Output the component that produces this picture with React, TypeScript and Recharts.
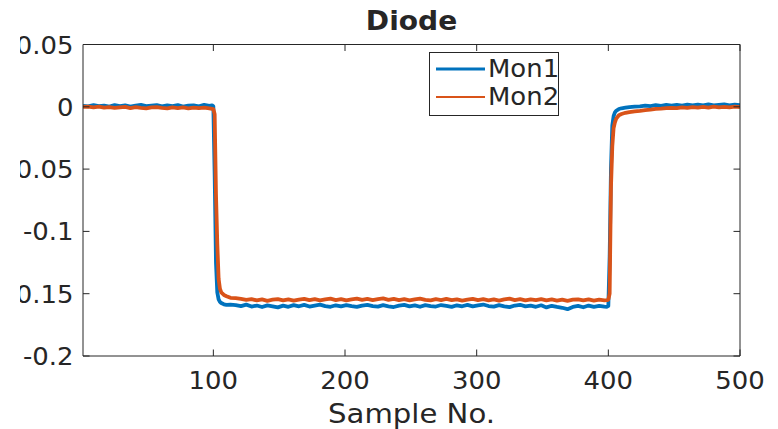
import React from 'react';
import { LineChart, Line, XAxis, YAxis, Legend } from 'recharts';

// Sample numbers (x values)
const sampleNo = [
  1, 5, 9, 13, 17, 21, 25, 29, 33, 37, 41, 45, 49, 53, 57, 61, 65, 69, 73, 77, 81, 85, 89, 93, 97,
  99, 100, 101, 102, 103, 104, 105, 106, 108, 110, 113,
  117, 121, 125, 129, 133, 137, 141, 145, 149, 153, 157, 161, 165, 169, 173, 177, 181, 185, 189, 193,
  197, 201, 205, 209, 213, 217, 221, 225, 229, 233, 237, 241, 245, 249, 253, 257, 261, 265, 269, 273,
  277, 281, 285, 289, 293, 297, 301, 305, 309, 313, 317, 321, 325, 329, 333, 337, 341, 345, 349, 353,
  357, 361, 365, 369, 373, 377, 381, 385, 389, 393, 397,
  399, 400, 401, 402, 403, 404, 405, 406, 408, 410, 413, 416, 420,
  424, 428, 432, 436, 440, 444, 448, 452, 456, 460, 464, 468, 472, 476, 480, 484, 488, 492, 496, 500,
];

const mon1 = [
  0.0008, 0.0003, 0.0013, 0.0005, 0.001, 0.0002, 0.0014, 0.0006, 0.0011, 0.0001, 0.001, 0.0015, 0.0005, 0.0009, 0.0013, 0.0003, 0.0011, 0.0006, 0.0014, 0.0002, 0.001, 0.0012, 0.0004, 0.0016, 0.0008,
  0.0012, 0.0004, -0.055, -0.125, -0.149, -0.1545, -0.1565, -0.1575, -0.1585, -0.159, -0.1588,
  -0.1591, -0.16, -0.1588, -0.1603, -0.1595, -0.1607, -0.1594, -0.1601, -0.161, -0.1596, -0.1605, -0.1592, -0.1601, -0.159, -0.1603, -0.1595, -0.1588, -0.16, -0.1605, -0.1593,
  -0.1602, -0.1591, -0.16, -0.1606, -0.1595, -0.1589, -0.16, -0.1604, -0.1592, -0.1601, -0.1607, -0.1596, -0.159, -0.1602, -0.1594, -0.1605, -0.1592, -0.16, -0.1603, -0.1591,
  -0.1598, -0.1606, -0.1593, -0.1601, -0.159, -0.1602, -0.1594, -0.1587, -0.1599, -0.1604, -0.1592, -0.1601, -0.1608, -0.1595, -0.1589, -0.1602, -0.1596, -0.1605, -0.1593, -0.161,
  -0.1597, -0.1606, -0.1613, -0.1624, -0.1606, -0.1598, -0.1609, -0.1595, -0.1605, -0.1597, -0.1604,
  -0.1605, -0.1598, -0.12, -0.05, -0.015, -0.0075, -0.0045, -0.0032, -0.0018, -0.0012, -0.0007, -0.0002, 0.0002,
  0.0004, 0.001, 0.0005, 0.0013, 0.0008, 0.0015, 0.0009, 0.0016, 0.001, 0.0017, 0.0011, 0.0018, 0.0012, 0.0019, 0.0011, 0.0016, 0.002, 0.0012, 0.0017, 0.0014,
];

const mon2 = [
  -0.0001, 0.0002, -0.0005, 0.0001, -0.0007, -0.0002, -0.0009, -0.0004, -0.0001, -0.001, -0.0003, -0.0008, -0.0012, -0.0005, -0.0002, -0.0009, -0.0013, -0.0004, -0.001, -0.0005, -0.0013, -0.0006, -0.0011, -0.0007, -0.0012,
  -0.0016, -0.0018, -0.006, -0.07, -0.11, -0.138, -0.146, -0.149, -0.151, -0.152, -0.1533,
  -0.1536, -0.1542, -0.155, -0.1544, -0.1554, -0.1546, -0.1557, -0.1548, -0.1543, -0.1553, -0.1545, -0.1555, -0.1547, -0.1541, -0.1552, -0.1544, -0.1554, -0.1546, -0.154, -0.1551,
  -0.1543, -0.1553, -0.1545, -0.1539, -0.155, -0.1542, -0.1552, -0.1544, -0.1538, -0.1549, -0.1541, -0.1551, -0.1543, -0.1553, -0.1545, -0.1539, -0.1549, -0.1554, -0.1544, -0.1551,
  -0.1542, -0.1552, -0.1545, -0.1555, -0.1547, -0.1541, -0.1551, -0.1543, -0.1553, -0.1545, -0.1555, -0.1546, -0.154, -0.1551, -0.1544, -0.1554, -0.1545, -0.1552, -0.1543, -0.1553,
  -0.1546, -0.1555, -0.1547, -0.1557, -0.1548, -0.1545, -0.1554, -0.1546, -0.1556, -0.1548, -0.1553,
  -0.1552, -0.1548, -0.15, -0.065, -0.032, -0.017, -0.0125, -0.0095, -0.0068, -0.0058, -0.0048, -0.0042, -0.0036,
  -0.0032, -0.0026, -0.0023, -0.0017, -0.0015, -0.0011, -0.0009, -0.0011, -0.0004, -0.0009, -0.0002, -0.0007, -0.0001, -0.0006, 0.0001, -0.0005, 0.0, -0.0004, 0.0002, -0.0002,
];

const xTicks = [100, 200, 300, 400, 500];
const yTicks = [-0.2, -0.15, -0.1, -0.05, 0, 0.05];
const seriesNames = ['Mon1', 'Mon2'];
const seriesColors = ['#0072BD', '#D95319'];
const titleText = 'Diode';
const xLabelText = 'Sample No.';

const data = sampleNo.map((s, i) => ({ sample: s, Mon1: mon1[i], Mon2: mon2[i] }));

const W = 778;
const H = 429;
const PL = 83;
const PR = 740;
const PT = 44.5;
const PB = 356;
const AX = '#262626';
const FONT = '"DejaVu Sans", sans-serif';
const SX = 1.08;
const TICK = 6.5;

function SText(props: any) {
  const { x, y, anchor, size, weight, children } = props;
  return (
    <g transform={`translate(${x},${y}) scale(${SX},1)`}>
      <text x={0} y={0} textAnchor={anchor} fontSize={size} fontWeight={weight || 'normal'} fill={AX} fontFamily={FONT}>
        {children}
      </text>
    </g>
  );
}

const BottomTick = (p: any) => (
  <g>
    <line x1={p.x} y1={PB} x2={p.x} y2={PB - TICK} stroke={AX} strokeWidth={1} />
    <SText x={p.x} y={PB + 33} anchor="middle" size={24}>{String(p.payload.value)}</SText>
  </g>
);
const TopTick = (p: any) => (
  <line x1={p.x} y1={PT} x2={p.x} y2={PT + TICK} stroke={AX} strokeWidth={1} />
);
const LeftTick = (p: any) => (
  <g>
    <line x1={PL} y1={p.y} x2={PL + TICK} y2={p.y} stroke={AX} strokeWidth={1} />
    <SText x={73.5} y={p.y + 9} anchor="end" size={24}>{String(p.payload.value)}</SText>
  </g>
);
const RightTick = (p: any) => (
  <line x1={PR} y1={p.y} x2={PR - TICK} y2={p.y} stroke={AX} strokeWidth={1} />
);

const LegendBox = () => (
  <svg width={131} height={65} style={{ overflow: 'visible', display: 'block' }}>
    <rect x={0.5} y={0.5} width={129} height={63} fill="#fff" stroke={AX} strokeWidth={1} />
    {seriesNames.map((n, i) => (
      <g key={n}>
        <line x1={7} x2={56} y1={17 + i * 28} y2={17 + i * 28} stroke={seriesColors[i]} strokeWidth={i === 0 ? 3 : 1.8} />
        <SText x={59} y={24.5 + i * 28} anchor="start" size={24}>{n}</SText>
      </g>
    ))}
  </svg>
);

export default function App() {
  return (
    <div style={{ position: 'absolute', left: 20, top: 0, width: W - 20, height: H, overflow: 'hidden', background: '#fff' }}>
      <div style={{ position: 'absolute', left: -20, top: 0 }}>
        <LineChart width={W} height={H} data={data} margin={{ top: PT - 1, right: W - PR - 1, bottom: H - PB - 1, left: PL - 1 }}>
          <XAxis
            dataKey="sample"
            type="number"
            domain={[1, 500]}
            ticks={xTicks}
            allowDataOverflow
            height={1}
            tickSize={0}
            tickMargin={0}
            tickLine={false}
            axisLine={{ stroke: AX, strokeWidth: 1 }}
            tick={BottomTick}
            interval={0}
          />
          <XAxis
            xAxisId="top"
            orientation="top"
            dataKey="sample"
            type="number"
            domain={[1, 500]}
            ticks={xTicks}
            allowDataOverflow
            height={1}
            tickSize={0}
            tickMargin={0}
            tickLine={false}
            axisLine={{ stroke: AX, strokeWidth: 1 }}
            tick={TopTick}
            interval={0}
          />
          <YAxis
            type="number"
            domain={[-0.2, 0.05]}
            ticks={yTicks}
            allowDataOverflow
            width={1}
            tickSize={0}
            tickMargin={0}
            tickLine={false}
            axisLine={{ stroke: AX, strokeWidth: 1 }}
            tick={LeftTick}
            interval={0}
          />
          <YAxis
            yAxisId="right"
            orientation="right"
            type="number"
            domain={[-0.2, 0.05]}
            ticks={yTicks}
            allowDataOverflow
            width={1}
            tickSize={0}
            tickMargin={0}
            tickLine={false}
            axisLine={{ stroke: AX, strokeWidth: 1 }}
            tick={RightTick}
            interval={0}
          />
          <Legend
            layout="vertical"
            align="center"
            verticalAlign="middle"
            content={LegendBox}
            wrapperStyle={{ position: 'absolute', left: 429, top: 52, width: 131, height: 65 }}
          />
          <Line type="linear" dataKey="Mon1" stroke={seriesColors[0]} strokeWidth={3.8} dot={false} strokeLinejoin="round" isAnimationActive={false} />
          <Line type="linear" dataKey="Mon2" stroke={seriesColors[1]} strokeWidth={3.8} dot={false} strokeLinejoin="round" isAnimationActive={false} />
          <SText x={411.5} y={29.5} anchor="middle" size={26} weight="bold">{titleText}</SText>
          <SText x={411.5} y={423} anchor="middle" size={27}>{xLabelText}</SText>
        </LineChart>
      </div>
    </div>
  );
}
